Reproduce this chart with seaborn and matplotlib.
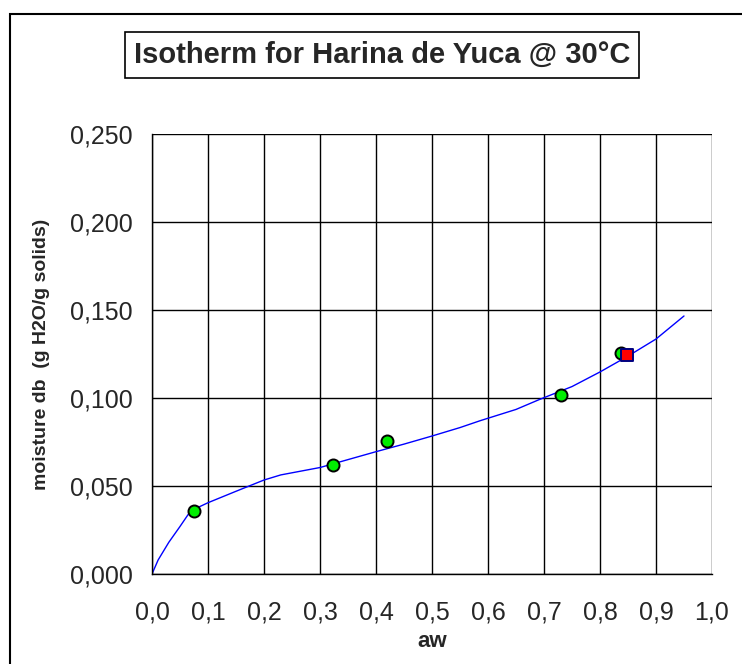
import numpy as np
import pandas as pd
import matplotlib
matplotlib.use("Agg")
import matplotlib.pyplot as plt
import seaborn as sns
from matplotlib.patches import Rectangle
from matplotlib.ticker import FuncFormatter, MultipleLocator

# ------------------- Data ------------------- #
# measured points
aw_meas = [0.075, 0.324, 0.420, 0.730, 0.838]
m_meas = [0.036, 0.062, 0.0755, 0.1015, 0.1255]

# highlighted point
aw_pt = [0.849]
m_pt = [0.1243]

# fitted isotherm curve
aw_fit = [0.0, 0.011, 0.03, 0.05, 0.065, 0.08, 0.1, 0.15, 0.2, 0.23, 0.3, 0.35,
          0.4, 0.45, 0.5, 0.55, 0.586, 0.65, 0.693, 0.75, 0.8, 0.85, 0.9, 0.95]
m_fit = [0.0, 0.008, 0.018, 0.027, 0.034, 0.0375, 0.0405, 0.047, 0.0534, 0.0563,
         0.0605, 0.065, 0.0695, 0.0738, 0.0784, 0.0832, 0.0871, 0.0935, 0.0993,
         0.1065, 0.1148, 0.1238, 0.1335, 0.1466]

fit = pd.DataFrame({"aw": aw_fit, "moisture": m_fit})
meas = pd.DataFrame({"aw": aw_meas, "moisture": m_meas})
pt = pd.DataFrame({"aw": aw_pt, "moisture": m_pt})

# ------------------- Plot ------------------- #
sns.set_style("white")
plt.rcParams["font.family"] = ["Liberation Sans", "DejaVu Sans"]

fig = plt.figure(figsize=(7.42, 6.64), dpi=100)
ax = fig.add_axes([152 / 742, (664 - 574) / 664, 560 / 742, 440 / 664])

sns.lineplot(data=fit, x="aw", y="moisture", ax=ax, color="#0000FF", linewidth=1.0)
sns.scatterplot(data=meas, x="aw", y="moisture", ax=ax, color="#00EE00", s=75,
                edgecolor="black", linewidth=1.4, zorder=5)
sns.scatterplot(data=pt, x="aw", y="moisture", ax=ax, color="#FF0000", marker="s",
                s=75, edgecolor="#000080", linewidth=1.4, zorder=6)

ax.set_xlim(0, 1.0)
ax.set_ylim(0, 0.25)
ax.xaxis.set_major_locator(MultipleLocator(0.1))
ax.yaxis.set_major_locator(MultipleLocator(0.05))
ax.xaxis.set_major_formatter(FuncFormatter(lambda v, p: f"{v:.1f}".replace(".", ",")))
ax.yaxis.set_major_formatter(FuncFormatter(lambda v, p: f"{v:.3f}".replace(".", ",")))
ax.grid(True, color="black", linewidth=1.0)
ax.set_axisbelow(True)
for s in ["top", "right"]:
    ax.spines[s].set_visible(False)
for s in ["left", "bottom"]:
    ax.spines[s].set_color("black")
    ax.spines[s].set_linewidth(1.0)
ax.tick_params(axis="both", which="major", direction="out", width=1,
               color="black", labelsize=18)
ax.tick_params(axis="x", length=6, pad=13)
ax.tick_params(axis="y", length=8, pad=6)
ax.set_xlabel("aw", fontsize=16, fontweight="bold", labelpad=5)
ax.set_ylabel("moisture db  (g H2O/g solids)", fontsize=14, fontweight="bold", labelpad=14)

# title box
fig.text(382 / 742, 1 - 55 / 664, "Isotherm for Harina de Yuca @ 30°C",
         ha="center", va="center", fontsize=21, fontweight="bold",
         bbox=dict(boxstyle="square,pad=0.3", facecolor="white", edgecolor="black", linewidth=1.2))

# outer chart border (cut off at right/bottom)
fig.patches.append(Rectangle((10 / 742, -0.1), 1.2, 1.1 - 14 / 664, transform=fig.transFigure,
                             fill=False, edgecolor="black", linewidth=1.5))

plt.savefig("out.png", dpi=100)
plt.close()
